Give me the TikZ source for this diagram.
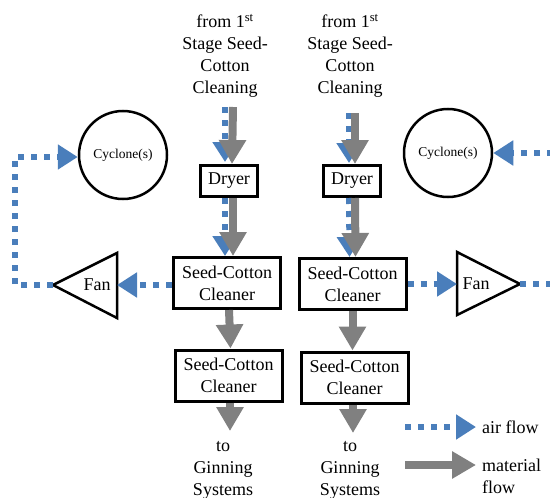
\documentclass[tikz,border=0pt]{standalone}
\usepackage{fontspec}
\setmainfont{Liberation Serif}
\newfontfamily\tnr{Liberation Serif}
\usetikzlibrary{arrows.meta,calc}
\definecolor{airblue}{HTML}{4A7EBB}
\definecolor{matgray}{HTML}{808080}
\begin{document}
\begin{tikzpicture}[x=1pt,y=-1pt,
  txt/.style={font=\tnr\fontsize{18}{22}\selectfont, align=center, inner sep=0pt},
  dryerbox/.style={draw, line width=3pt, minimum width=57pt, minimum height=31pt, inner sep=0pt, font=\tnr\fontsize{18}{22}\selectfont},
  cleanbox/.style={draw, line width=3pt, minimum width=107pt, minimum height=51pt, inner sep=0pt, align=center, font=\tnr\fontsize{18}{22}\selectfont},
  cyc/.style={draw, circle, line width=2.5pt, minimum size=88pt, inner sep=0pt, font=\tnr\fontsize{13.5}{16}\selectfont},
  fanshape/.style={draw, line width=2.5pt, line join=miter},
  air/.style={airblue, line width=6pt, dash pattern=on 6pt off 7pt, -{Triangle[length=20pt,width=24pt]}},
  airline/.style={airblue, line width=6pt, dash pattern=on 6pt off 7pt},
  mat/.style={matgray, line width=8pt, -{Triangle[length=24pt,width=26pt]}}]
\useasboundingbox (0,0) rectangle (550,498);

% source texts
\node[txt] (src1) at (225,56) {from 1\textsuperscript{st}\\Stage Seed-\\Cotton\\Cleaning};
\node[txt] (src2) at (350,56) {from 1\textsuperscript{st}\\Stage Seed-\\Cotton\\Cleaning};

% boxes
\node[dryerbox] (dry1) at (229,181) {Dryer};
\node[dryerbox] (dry2) at (352,181) {Dryer};
\node[cleanbox] (cl1) at (227,283) {Seed-Cotton\\Cleaner};
\node[cleanbox] (cl2) at (352.5,284) {Seed-Cotton\\Cleaner};
\node[cleanbox] (cl1b) at (228.5,375.5) {Seed-Cotton\\Cleaner};
\node[cleanbox] (cl2b) at (354.5,377.5) {Seed-Cotton\\Cleaner};

% cyclones
\node[cyc] (cyc1) at (123,155) {Cyclone(s)};
\node[cyc] (cyc2) at (448,153) {Cyclone(s)};

% fans
\coordinate (f1tip) at (53,285);
\coordinate (f1base) at (117,285);
\draw[fanshape] (f1tip) -- (117,253) -- (117,318) -- cycle;
\node[txt] (fan1) at (97,285) {Fan};
\coordinate (f2tip) at (520,284);
\coordinate (f2base) at (457,284);
\draw[fanshape] (f2tip) -- (457,252) -- (457,315) -- cycle;
\node[txt] (fan2) at (476,284) {Fan};

% bottom texts
\node[txt] (dst1) at (223,470) {to\\Ginning\\Systems};
\node[txt] (dst2) at (350,470) {to\\Ginning\\Systems};

% air flows along material lines
\draw[air] (225,107) -- (225,162);
\draw[air] ([xshift=-4pt]dry1.south) -- ([xshift=-2pt]cl1.north);
\draw[air] (349,113) -- (349,163);
\draw[air] ([xshift=-3pt]dry2.south) -- ([xshift=-3pt]cl2.north);

% material flows
\draw[mat] (233,107) -- ([xshift=3pt]dry1.north);
\draw[mat] ([xshift=4pt]dry1.south) -- ([xshift=6pt]cl1.north);
\draw[mat] ([xshift=2pt]cl1.south) -- ([xshift=2pt]cl1b.north);
\coordinate (e1) at (230,431);
\draw[mat] ([xshift=1.5pt]cl1b.south) -- (e1);
\draw[mat] (355,113) -- ([xshift=3pt]dry2.north);
\draw[mat] ([xshift=3pt]dry2.south) -- ([xshift=3pt]cl2.north);
\draw[mat] ([xshift=0pt]cl2.south) -- ([xshift=-2pt]cl2b.north);
\coordinate (e2) at (353,433);
\draw[mat] ([xshift=-1.5pt]cl2b.south) -- (e2);

% air: cleaners to fans
\draw[air] (cl1.west |- f1base) -- (f1base);
\draw[air] (cl2.east |- f2base) -- (f2base);

% left loop fan -> cyclone
\coordinate (lc1) at (15,285);
\coordinate (lc2) at (15,157);
\draw[air] (f1tip) -- (lc1) -- (lc2) -- (cyc1.west |- lc2);

% right: fan exhaust and cyclone inlet
\coordinate (rout) at (553,284);
\draw[airline] (f2tip) -- (rout);
\coordinate (rin) at (553,153);
\draw[air] (rin) -- (cyc2.east);

% legend
\coordinate (la1) at (405,427);
\coordinate (la2) at (476,427);
\draw[air] (la1) -- (la2);
\node[txt, anchor=west] (lat) at (482,427) {air flow};
\coordinate (lm1) at (405,465);
\coordinate (lm2) at (476,465);
\draw[mat] (lm1) -- (lm2);
\node[txt, anchor=west, align=left] (lmt) at (482,476) {material\\flow};
\end{tikzpicture}
\end{document}
